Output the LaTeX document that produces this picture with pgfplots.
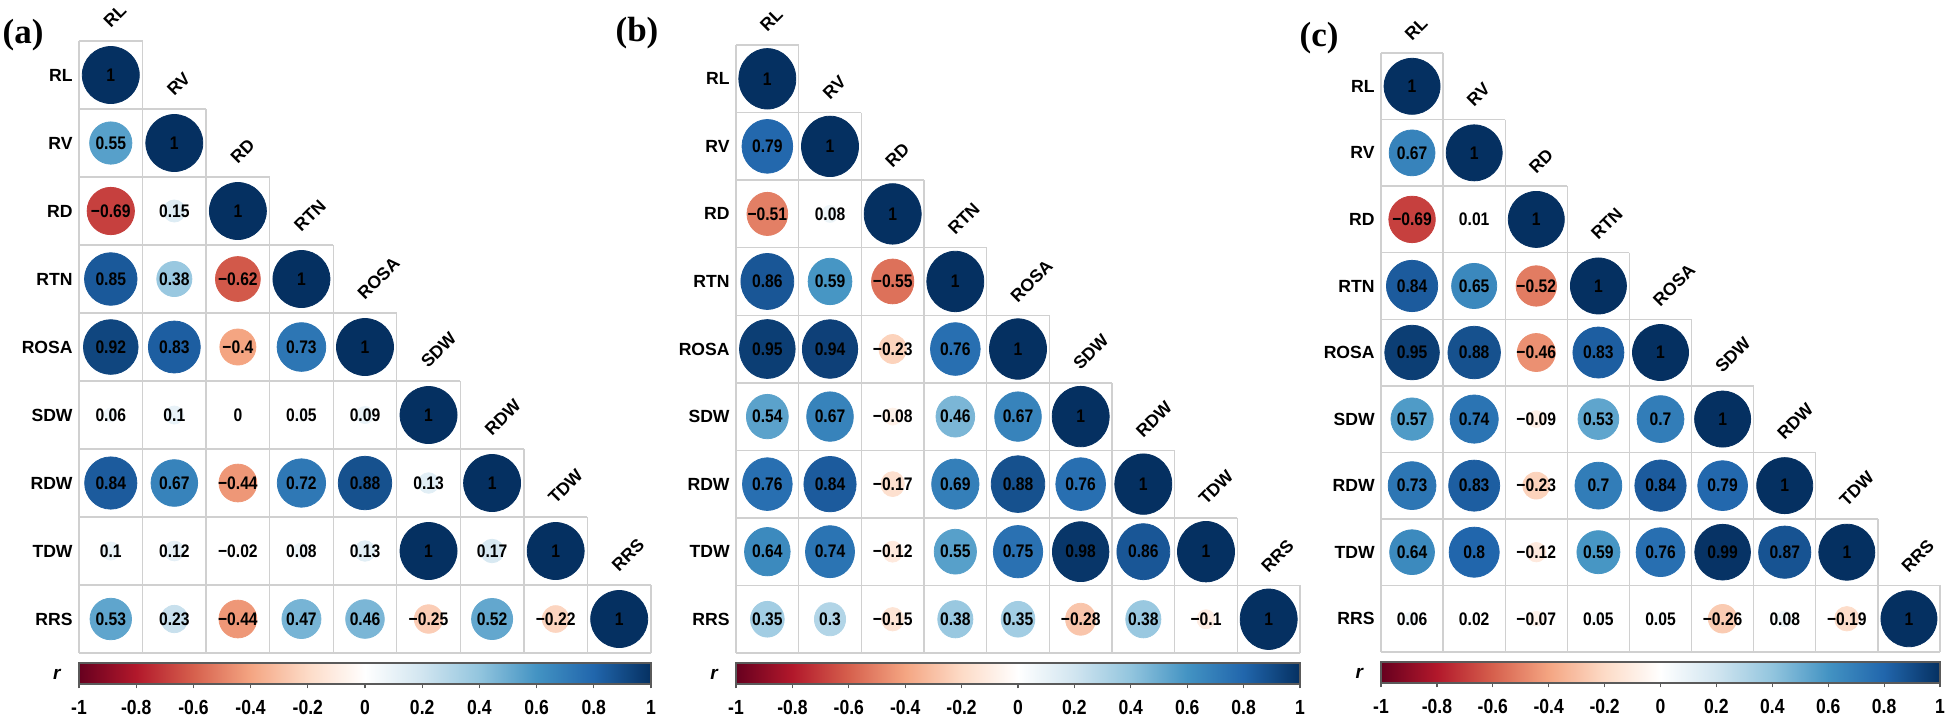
\documentclass[border=0pt]{standalone}
\usepackage{pgfplots}
\pgfplotsset{compat=1.18}
\usepackage{pgfplotstable}
\usepackage{fontspec}
\setmainfont{Liberation Sans}
\newfontfamily\narrowfont{Liberation Sans}[FakeStretch=0.86]
\newfontfamily\seriffont{Liberation Serif}

\definecolor{gridgray}{RGB}{208,208,208}
\definecolor{cbframe}{RGB}{90,90,90}

\pgfplotsset{colormap={rdbu}{rgb255=(103,0,31) rgb255=(178,24,43) rgb255=(214,96,77) rgb255=(244,165,130) rgb255=(253,219,199) rgb255=(255,255,255) rgb255=(209,229,240) rgb255=(146,197,222) rgb255=(67,147,195) rgb255=(33,102,172) rgb255=(5,48,97)}}

\newcommand\lblfont{\fontsize{8.8}{10}\selectfont\bfseries}
\newcommand\valfont{\narrowfont\fontsize{9.1}{10}\selectfont\bfseries}
\newcommand\tickfont{\narrowfont\fontsize{10.2}{12}\selectfont\bfseries}
\newcommand\rfont{\fontsize{9.5}{10}\selectfont\bfseries\itshape}
\newcommand\panelfont{\seriffont\fontsize{17.5}{20}\selectfont\bfseries}

\pgfplotsset{
 corrax/.style={
   scale only axis, clip=false,
   xmin=0.5,xmax=9.5,ymin=0.5,ymax=9.5,y dir=reverse,
   axis line style={draw=none},
   xtick=\empty, ytick={1,2,3,4,5,6,7,8,9},
   yticklabels={RL,RV,RD,RTN,ROSA,SDW,RDW,TDW,RRS},
   major tick length=0pt,
   yticklabel style={font=\lblfont, inner sep=0pt, xshift=-3pt},
   colormap name=rdbu, point meta min=-1, point meta max=1,
   colorbar horizontal,
   colorbar shift/.style={yshift=-5pt},
   colorbar style={
     at={(parent axis.south west)}, anchor=north west,
     scale only axis,
     width=\pgfkeysvalueof{/pgfplots/parent axis width},
     height=10.5pt,
     xtick={-1,-0.8,-0.6,-0.4,-0.2,0,0.2,0.4,0.6,0.8,1},
     xticklabels={-1,-0.8,-0.6,-0.4,-0.2,0,0.2,0.4,0.6,0.8,1},
     xtick pos=left, xtick align=outside,
     major tick length=2.2pt,
     xticklabel style={font=\tickfont, yshift=-2.5pt},
     axis line style={draw=cbframe, line width=0.6pt},
     every tick/.style={draw=cbframe, line width=0.6pt},
     ytick=\empty,
   },
 },
 circles/.style={scatter, only marks, mark=*, point meta=explicit,
   scatter/use mapped color={draw=mapped color, fill=mapped color},
   scatter/@pre marker code/.append code={%
     \pgfmathsetmacro\msize{sqrt(abs(\pgfplotspointmetatransformed/500-1))*#1}%
     \pgfsetplotmarksize{\msize pt}},
 },
 values/.style={only marks, mark=none, point meta=explicit symbolic,
   nodes near coords,
   every node near coord/.append style={anchor=center, text=black, font=\valfont, inner sep=0pt},
 },
}

\newcommand\cellgrid{%
 \draw[gridgray, line width=0.7pt]
  (axis cs:0.5,0.5) -- (axis cs:1.5,0.5)
  (axis cs:0.5,1.5) -- (axis cs:2.5,1.5)
  (axis cs:0.5,2.5) -- (axis cs:3.5,2.5)
  (axis cs:0.5,3.5) -- (axis cs:4.5,3.5)
  (axis cs:0.5,4.5) -- (axis cs:5.5,4.5)
  (axis cs:0.5,5.5) -- (axis cs:6.5,5.5)
  (axis cs:0.5,6.5) -- (axis cs:7.5,6.5)
  (axis cs:0.5,7.5) -- (axis cs:8.5,7.5)
  (axis cs:0.5,8.5) -- (axis cs:9.5,8.5)
  (axis cs:0.5,9.5) -- (axis cs:9.5,9.5)
  (axis cs:0.5,0.5) -- (axis cs:0.5,9.5)
  (axis cs:1.5,0.5) -- (axis cs:1.5,9.5)
  (axis cs:2.5,1.5) -- (axis cs:2.5,9.5)
  (axis cs:3.5,2.5) -- (axis cs:3.5,9.5)
  (axis cs:4.5,3.5) -- (axis cs:4.5,9.5)
  (axis cs:5.5,4.5) -- (axis cs:5.5,9.5)
  (axis cs:6.5,5.5) -- (axis cs:6.5,9.5)
  (axis cs:7.5,6.5) -- (axis cs:7.5,9.5)
  (axis cs:8.5,7.5) -- (axis cs:8.5,9.5)
  (axis cs:9.5,8.5) -- (axis cs:9.5,9.5);
}
\newcommand\collabels{%
 \begin{scope}[every node/.style={rotate=45, anchor=south west, inner sep=0pt, font=\lblfont}]
 \node at (axis cs:1,0.33) {RL};
 \node at (axis cs:2,1.33) {RV};
 \node at (axis cs:3,2.33) {RD};
 \node at (axis cs:4,3.33) {RTN};
 \node at (axis cs:5,4.33) {ROSA};
 \node at (axis cs:6,5.33) {SDW};
 \node at (axis cs:7,6.33) {RDW};
 \node at (axis cs:8,7.33) {TDW};
 \node at (axis cs:9,8.33) {RRS};
 \end{scope}
 \node[font=\rfont] at (axis cs:0.15,9.82) {r};
}

\pgfplotstableread{
x y r l
1 1 1 1
1 2 0.55 0.55
2 2 1 1
1 3 -0.69 −0.69
2 3 0.15 0.15
3 3 1 1
1 4 0.85 0.85
2 4 0.38 0.38
3 4 -0.62 −0.62
4 4 1 1
1 5 0.92 0.92
2 5 0.83 0.83
3 5 -0.4 −0.4
4 5 0.73 0.73
5 5 1 1
1 6 0.06 0.06
2 6 0.1 0.1
3 6 0 0
4 6 0.05 0.05
5 6 0.09 0.09
6 6 1 1
1 7 0.84 0.84
2 7 0.67 0.67
3 7 -0.44 −0.44
4 7 0.72 0.72
5 7 0.88 0.88
6 7 0.13 0.13
7 7 1 1
1 8 0.1 0.1
2 8 0.12 0.12
3 8 -0.02 −0.02
4 8 0.08 0.08
5 8 0.13 0.13
6 8 1 1
7 8 0.17 0.17
8 8 1 1
1 9 0.53 0.53
2 9 0.23 0.23
3 9 -0.44 −0.44
4 9 0.47 0.47
5 9 0.46 0.46
6 9 -0.25 −0.25
7 9 0.52 0.52
8 9 -0.22 −0.22
9 9 1 1
}\tabA

\pgfplotstableread{
x y r l
1 1 1 1
1 2 0.79 0.79
2 2 1 1
1 3 -0.51 −0.51
2 3 0.08 0.08
3 3 1 1
1 4 0.86 0.86
2 4 0.59 0.59
3 4 -0.55 −0.55
4 4 1 1
1 5 0.95 0.95
2 5 0.94 0.94
3 5 -0.23 −0.23
4 5 0.76 0.76
5 5 1 1
1 6 0.54 0.54
2 6 0.67 0.67
3 6 -0.08 −0.08
4 6 0.46 0.46
5 6 0.67 0.67
6 6 1 1
1 7 0.76 0.76
2 7 0.84 0.84
3 7 -0.17 −0.17
4 7 0.69 0.69
5 7 0.88 0.88
6 7 0.76 0.76
7 7 1 1
1 8 0.64 0.64
2 8 0.74 0.74
3 8 -0.12 −0.12
4 8 0.55 0.55
5 8 0.75 0.75
6 8 0.98 0.98
7 8 0.86 0.86
8 8 1 1
1 9 0.35 0.35
2 9 0.3 0.3
3 9 -0.15 −0.15
4 9 0.38 0.38
5 9 0.35 0.35
6 9 -0.28 −0.28
7 9 0.38 0.38
8 9 -0.1 −0.1
9 9 1 1
}\tabB

\pgfplotstableread{
x y r l
1 1 1 1
1 2 0.67 0.67
2 2 1 1
1 3 -0.69 −0.69
2 3 0.01 0.01
3 3 1 1
1 4 0.84 0.84
2 4 0.65 0.65
3 4 -0.52 −0.52
4 4 1 1
1 5 0.95 0.95
2 5 0.88 0.88
3 5 -0.46 −0.46
4 5 0.83 0.83
5 5 1 1
1 6 0.57 0.57
2 6 0.74 0.74
3 6 -0.09 −0.09
4 6 0.53 0.53
5 6 0.7 0.7
6 6 1 1
1 7 0.73 0.73
2 7 0.83 0.83
3 7 -0.23 −0.23
4 7 0.7 0.7
5 7 0.84 0.84
6 7 0.79 0.79
7 7 1 1
1 8 0.64 0.64
2 8 0.8 0.8
3 8 -0.12 −0.12
4 8 0.59 0.59
5 8 0.76 0.76
6 8 0.99 0.99
7 8 0.87 0.87
8 8 1 1
1 9 0.06 0.06
2 9 0.02 0.02
3 9 -0.07 −0.07
4 9 0.05 0.05
5 9 0.05 0.05
6 9 -0.26 −0.26
7 9 0.08 0.08
8 9 -0.19 −0.19
9 9 1 1
}\tabC

\begin{document}
\begin{tikzpicture}
\begin{axis}[corrax, at={(39.5pt,33.5pt)}, anchor=south west, width=286pt, height=306pt]
 \cellgrid
 \addplot[circles=14.25] table[x=x,y=y,meta=r] {\tabA};
 \addplot[values] table[x=x,y=y,meta=l] {\tabA};
 \collabels
\end{axis}
\begin{axis}[corrax, at={(368pt,33.5pt)}, anchor=south west, width=282pt, height=304pt]
 \cellgrid
 \addplot[circles=14.25, mark options={yscale=1.06}] table[x=x,y=y,meta=r] {\tabB};
 \addplot[values] table[x=x,y=y,meta=l] {\tabB};
 \collabels
\end{axis}
\begin{axis}[corrax, at={(690.5pt,34pt)}, anchor=south west, width=279.5pt, height=299.5pt]
 \cellgrid
 \addplot[circles=14] table[x=x,y=y,meta=r] {\tabC};
 \addplot[values] table[x=x,y=y,meta=l] {\tabC};
 \collabels
\end{axis}
\node[font=\panelfont] at (11.5pt,342.5pt) {(a)};
\node[font=\panelfont] at (318.5pt,343.5pt) {(b)};
\node[font=\panelfont] at (659.5pt,341pt) {(c)};
\pgfresetboundingbox
\path (0,0) rectangle (973pt,360pt);
\end{tikzpicture}
\end{document}
